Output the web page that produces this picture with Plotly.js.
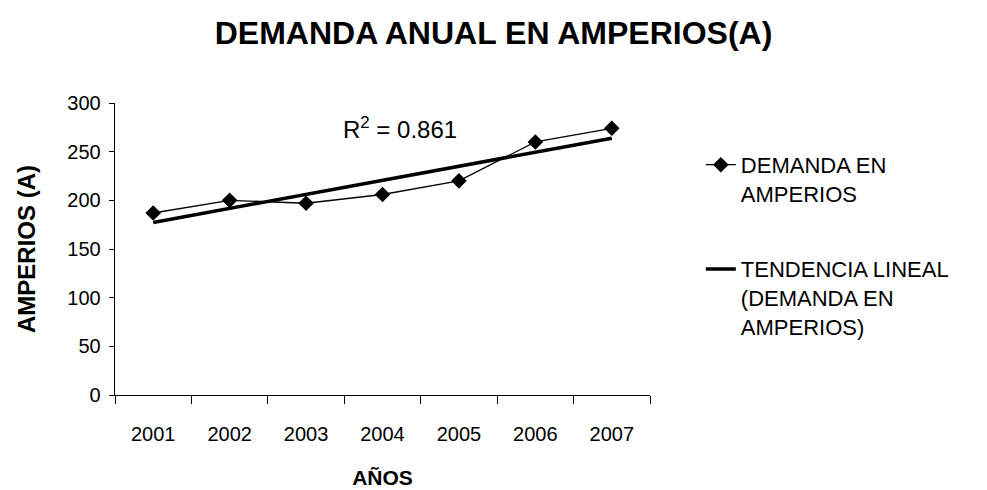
<!DOCTYPE html>
<html>
<head>
<meta charset="utf-8">
<script src="https://cdn.plot.ly/plotly-3.0.1.min.js"></script>
<style>html,body{margin:0;padding:0;background:#fff;}#chart{width:987px;height:490px;}</style>
</head>
<body>
<div id="chart"></div>
<script>
const years = ['2001', '2002', '2003', '2004', '2005', '2006', '2007'];
const demanda = [187, 200, 197, 206, 220, 260, 274];
const yTicks = [0, 50, 100, 150, 200, 250, 300];
const r2Label = 'R<sup>2</sup> = 0.861';

// Least-squares linear trend of the data (as the spreadsheet trendline)
const n = demanda.length;
const idx = demanda.map((_, i) => i + 1);
const mx = idx.reduce((a, b) => a + b, 0) / n;
const my = demanda.reduce((a, b) => a + b, 0) / n;
let sxy = 0, sxx = 0;
idx.forEach((x, i) => { sxy += (x - mx) * (demanda[i] - my); sxx += (x - mx) * (x - mx); });
const slope = sxy / sxx, icpt = my - slope * mx;
const trend = idx.map(x => icpt + slope * x);

const FONT = '"Liberation Sans", Arial, sans-serif';

const traces = [
  {
    x: years, y: demanda, type: 'scatter', mode: 'lines+markers',
    name: 'DEMANDA EN<br>AMPERIOS', legendgroup: 'a',
    line: {color: '#000', width: 1.3},
    marker: {symbol: 'diamond', size: 12, color: '#000'}
  },
  {
    x: years, y: trend, type: 'scatter', mode: 'lines',
    name: 'TENDENCIA LINEAL<br>(DEMANDA EN<br>AMPERIOS)', legendgroup: 'b',
    line: {color: '#000', width: 3.5}
  }
];

const layout = {
  width: 987, height: 490,
  paper_bgcolor: '#fff', plot_bgcolor: '#fff',
  margin: {l: 115, r: 337, t: 103, b: 95},
  font: {family: FONT, color: '#000', size: 20},
  title: {
    text: '<b>DEMANDA ANUAL EN AMPERIOS(A)</b>',
    font: {family: FONT, size: 32, color: '#000'},
    x: 0.5, xanchor: 'center', xref: 'container',
    y: 0.933, yanchor: 'middle', yref: 'container'
  },
  xaxis: {
    type: 'category', range: [-0.5, 6.5],
    tickson: 'boundaries', ticks: 'outside', ticklen: 8, tickcolor: '#000', tickwidth: 1,
    showline: true, linecolor: '#000', linewidth: 1.3,
    showgrid: false, zeroline: false,
    tickfont: {family: FONT, size: 20, color: '#000'},
    ticklabelstandoff: 21,
    title: {text: '<b>AÑOS</b>', font: {family: FONT, size: 21, color: '#000'}, standoff: 26},
    automargin: false,
    fixedrange: true
  },
  yaxis: {
    range: [0, 300], tickvals: yTicks, ticktext: yTicks.map(String),
    ticks: 'outside', ticklen: 5, tickcolor: '#000', tickwidth: 1,
    showline: true, linecolor: '#000', linewidth: 1.3,
    showgrid: false, zeroline: false,
    tickfont: {family: FONT, size: 20, color: '#000'},
    ticklabelstandoff: 4,
    title: {text: '<b>AMPERIOS (A)</b>', font: {family: FONT, size: 24, color: '#000'}, standoff: 25},
    automargin: false,
    fixedrange: true
  },
  legend: {
    x: 1.095, xanchor: 'left', xref: 'paper',
    y: 0.86, yanchor: 'top', yref: 'paper',
    font: {family: FONT, size: 22, color: '#000'},
    valign: 'top', traceorder: 'grouped', tracegroupgap: 44,
    bgcolor: 'rgba(0,0,0,0)', borderwidth: 0
  },
  showlegend: true,
  annotations: [
    {
      text: r2Label, xref: 'paper', yref: 'paper', x: 0.533, y: 0.913,
      xanchor: 'center', yanchor: 'middle', showarrow: false,
      font: {family: FONT, size: 24, color: '#000'}
    }
  ]
};

Plotly.newPlot('chart', traces, layout, {displayModeBar: false, staticPlot: true});
</script>
</body>
</html>
